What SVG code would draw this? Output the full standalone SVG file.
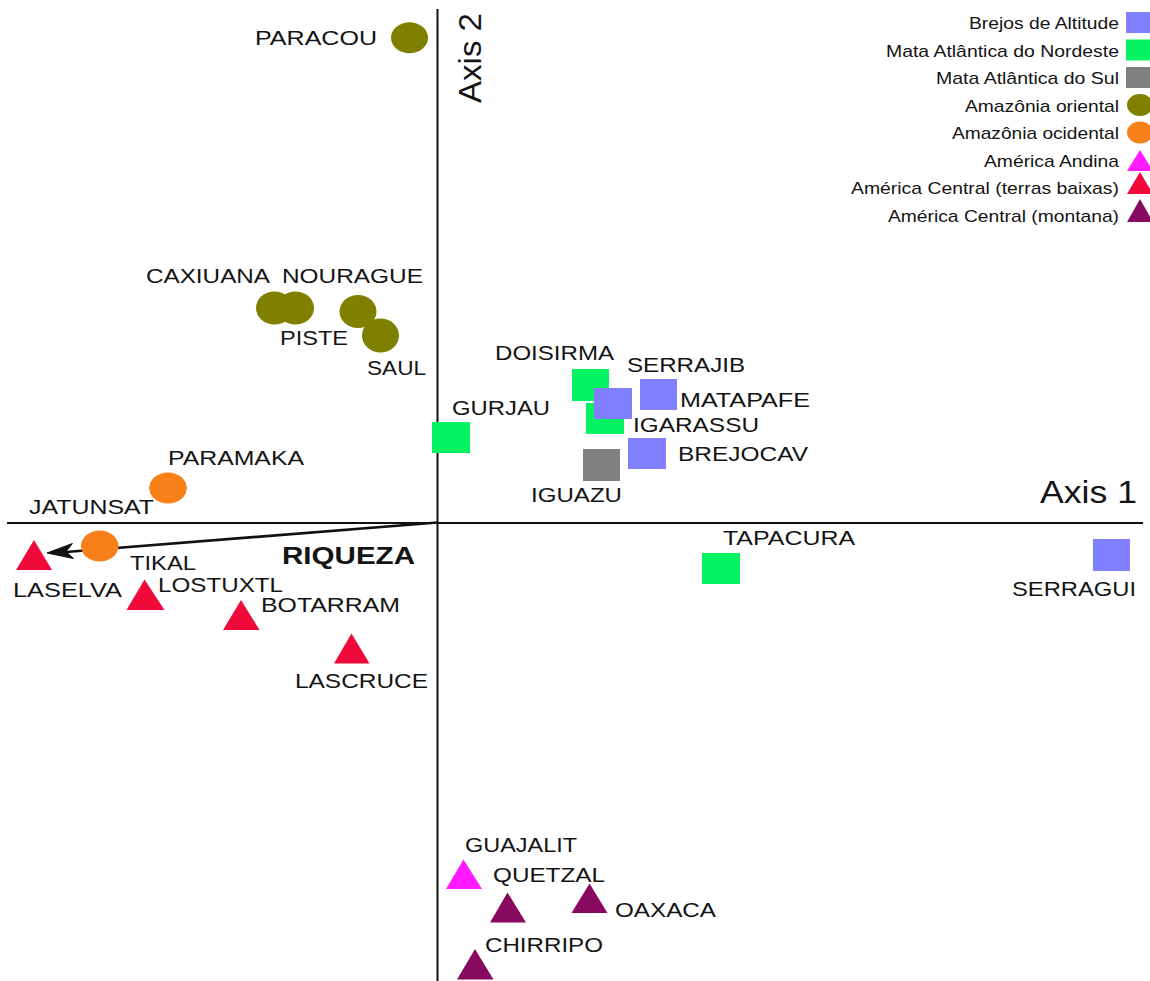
<svg xmlns="http://www.w3.org/2000/svg" width="1150" height="981" viewBox="0 0 1150 981">
<style>
text{font-family:"Liberation Sans",Arial,sans-serif;fill:#141414}
.lb{font-size:21px}
.lg{font-size:17px;text-anchor:end}
.ax{font-size:32px}
.rq{font-size:23px;font-weight:bold}
.blue{fill:#7f7fff}
.green{fill:#05f262}
.gray{fill:#808080}
.olive{fill:#7f7f00}
.orange{fill:#f7801a}
.mag{fill:#ff1aff}
.red{fill:#f00a3a}
.purp{fill:#880a60}
.axis{stroke:#111;stroke-width:2;fill:none}
</style>
<rect width="1150" height="981" fill="#fff"/>
<g id="axes">
<line class="axis" x1="7" y1="523" x2="1143" y2="523"/>
<line class="axis" x1="437.5" y1="9" x2="437.5" y2="981"/>
<text class="ax" x="1137" y="503" text-anchor="end" textLength="97" lengthAdjust="spacingAndGlyphs">Axis 1</text>
<text class="ax" transform="translate(481 103) rotate(-90)" textLength="90" lengthAdjust="spacingAndGlyphs">Axis 2</text>
</g>
<g id="legend">
<text class="lg" x="1119" y="29" textLength="150" lengthAdjust="spacingAndGlyphs">Brejos de Altitude</text>
<rect class="blue" x="1126" y="12" width="26" height="21"/>
<text class="lg" x="1119" y="56.5" textLength="233" lengthAdjust="spacingAndGlyphs">Mata Atlântica do Nordeste</text>
<rect class="green" x="1126" y="39.5" width="26" height="21"/>
<text class="lg" x="1119" y="84" textLength="183" lengthAdjust="spacingAndGlyphs">Mata Atlântica do Sul</text>
<rect class="gray" x="1126" y="67" width="26" height="21"/>
<text class="lg" x="1119" y="111.5" textLength="154" lengthAdjust="spacingAndGlyphs">Amazônia oriental</text>
<ellipse class="olive" cx="1140" cy="105" rx="13" ry="11"/>
<text class="lg" x="1119" y="139" textLength="167" lengthAdjust="spacingAndGlyphs">Amazônia ocidental</text>
<ellipse class="orange" cx="1140" cy="132.5" rx="13" ry="11"/>
<text class="lg" x="1119" y="166.5" textLength="135" lengthAdjust="spacingAndGlyphs">América Andina</text>
<polygon class="mag" points="1140,150 1127,171 1153,171"/>
<text class="lg" x="1119" y="194" textLength="268" lengthAdjust="spacingAndGlyphs">América Central (terras baixas)</text>
<polygon class="red" points="1140,172 1127,194 1153,194"/>
<text class="lg" x="1119" y="221.5" textLength="231" lengthAdjust="spacingAndGlyphs">América Central (montana)</text>
<polygon class="purp" points="1140,199 1127,222 1153,222"/>
</g>
<g id="connectors">
<line x1="437.5" y1="522.5" x2="66" y2="552" stroke="#111" stroke-width="2.6"/>
<polygon points="47,553 72.4,543.5 66,551.5 73.4,558.5" fill="#111" stroke="#111" stroke-width="1"/>
<text class="rq" x="282" y="564" textLength="133" lengthAdjust="spacingAndGlyphs">RIQUEZA</text>
</g>
<g id="PARACOU"><ellipse class="olive" cx="409.5" cy="37.7" rx="18.5" ry="15.5"/><text class="lb" x="255" y="45" textLength="122" lengthAdjust="spacingAndGlyphs">PARACOU</text></g>
<g id="CAXIUANA"><ellipse class="olive" cx="274.5" cy="308" rx="18.5" ry="16.5"/><text class="lb" x="146" y="283" textLength="124" lengthAdjust="spacingAndGlyphs">CAXIUANA</text></g>
<g id="NOURAGUE"><ellipse class="olive" cx="295.5" cy="308" rx="18.5" ry="16.5"/><text class="lb" x="282" y="283" textLength="141" lengthAdjust="spacingAndGlyphs">NOURAGUE</text></g>
<g id="PISTE"><ellipse class="olive" cx="358" cy="311.5" rx="18.5" ry="16.5"/><text class="lb" x="280" y="345" textLength="68" lengthAdjust="spacingAndGlyphs">PISTE</text></g>
<g id="SAUL"><ellipse class="olive" cx="380.5" cy="335.5" rx="18.5" ry="17"/><text class="lb" x="367" y="375" textLength="59" lengthAdjust="spacingAndGlyphs">SAUL</text></g>
<g id="PARAMAKA"><ellipse class="orange" cx="168" cy="488" rx="18.8" ry="15.5"/><text class="lb" x="168" y="465" textLength="136" lengthAdjust="spacingAndGlyphs">PARAMAKA</text></g>
<g id="JATUNSAT"><ellipse class="orange" cx="99.7" cy="546" rx="18.7" ry="15.5"/><text class="lb" x="29" y="514" textLength="125" lengthAdjust="spacingAndGlyphs">JATUNSAT</text></g>
<g id="GURJAU"><rect class="green" x="432" y="422" width="38" height="31"/><text class="lb" x="452" y="415" textLength="98" lengthAdjust="spacingAndGlyphs">GURJAU</text></g>
<g id="DOISIRMA"><rect class="green" x="572" y="369" width="37" height="32"/><text class="lb" x="495" y="360" textLength="119" lengthAdjust="spacingAndGlyphs">DOISIRMA</text></g>
<g id="IGARASSU"><rect class="green" x="586" y="403" width="38" height="31"/><text class="lb" x="633" y="432" textLength="126" lengthAdjust="spacingAndGlyphs">IGARASSU</text></g>
<g id="SERRAJIB"><rect class="blue" x="594" y="388" width="38" height="31"/><text class="lb" x="627" y="372" textLength="118" lengthAdjust="spacingAndGlyphs">SERRAJIB</text></g>
<g id="MATAPAFE"><rect class="blue" x="640" y="379" width="37" height="31"/><text class="lb" x="680" y="407" textLength="130" lengthAdjust="spacingAndGlyphs">MATAPAFE</text></g>
<g id="BREJOCAV"><rect class="blue" x="628" y="438" width="38" height="31"/><text class="lb" x="678" y="461" textLength="130" lengthAdjust="spacingAndGlyphs">BREJOCAV</text></g>
<g id="IGUAZU"><rect class="gray" x="583" y="449" width="37" height="32"/><text class="lb" x="531" y="502" textLength="91" lengthAdjust="spacingAndGlyphs">IGUAZU</text></g>
<g id="TAPACURA"><rect class="green" x="702" y="553" width="38" height="31"/><text class="lb" x="723" y="545" textLength="132" lengthAdjust="spacingAndGlyphs">TAPACURA</text></g>
<g id="SERRAGUI"><rect class="blue" x="1093" y="539" width="37" height="32"/><text class="lb" x="1012" y="596" textLength="124" lengthAdjust="spacingAndGlyphs">SERRAGUI</text></g>
<g id="LASELVA"><polygon class="red" points="34,540 16,570 52,570"/><text class="lb" x="13" y="597" textLength="109" lengthAdjust="spacingAndGlyphs">LASELVA</text></g>
<g id="TIKAL"><text class="lb" x="130" y="570" textLength="66" lengthAdjust="spacingAndGlyphs">TIKAL</text></g>
<g id="LOSTUXTL"><polygon class="red" points="144.5,579.5 126.5,610 164.5,610"/><text class="lb" x="158" y="592" textLength="125" lengthAdjust="spacingAndGlyphs">LOSTUXTL</text></g>
<g id="BOTARRAM"><polygon class="red" points="241,600 223,630 259.5,630"/><text class="lb" x="261" y="612" textLength="139" lengthAdjust="spacingAndGlyphs">BOTARRAM</text></g>
<g id="LASCRUCE"><polygon class="red" points="351.5,633.5 334,663.5 369.5,663.5"/><text class="lb" x="295" y="688" textLength="133" lengthAdjust="spacingAndGlyphs">LASCRUCE</text></g>
<g id="GUAJALIT"><polygon class="mag" points="463.5,859.5 446,889 482,889"/><text class="lb" x="465" y="852" textLength="112" lengthAdjust="spacingAndGlyphs">GUAJALIT</text></g>
<g id="QUETZAL"><polygon class="purp" points="507.5,892.5 490,922.5 526,922.5"/><text class="lb" x="493" y="882" textLength="112" lengthAdjust="spacingAndGlyphs">QUETZAL</text></g>
<g id="OAXACA"><polygon class="purp" points="589.5,883.5 571.5,913 607.5,913"/><text class="lb" x="615" y="917" textLength="101" lengthAdjust="spacingAndGlyphs">OAXACA</text></g>
<g id="CHIRRIPO"><polygon class="purp" points="475,949 457,979.5 493.5,979.5"/><text class="lb" x="485" y="952" textLength="118" lengthAdjust="spacingAndGlyphs">CHIRRIPO</text></g>
</svg>
